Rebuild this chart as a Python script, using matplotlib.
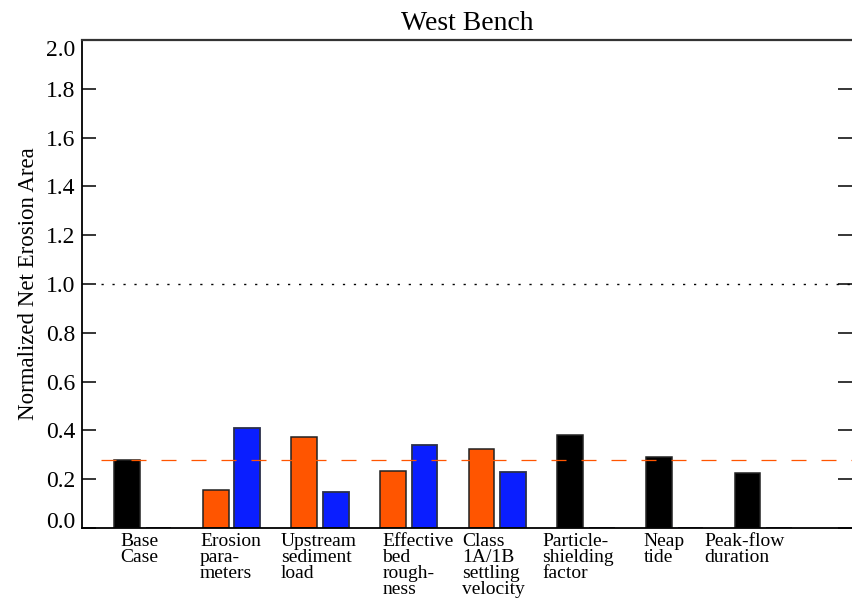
import matplotlib
matplotlib.use('Agg')
import matplotlib.pyplot as plt
import numpy as np

plt.rcParams['font.family'] = ['Liberation Serif', 'DejaVu Serif']

# Sensitivity cases, one group of two bars each
cases = ['Base\nCase', 'Erosion\npara-\nmeters', 'Upstream\nsediment\nload',
         'Effective\nbed\nrough-\nness', 'Class\n1A/1B\nsettling\nvelocity',
         'Particle-\nshielding\nfactor', 'Neap\ntide', 'Peak-flow\nduration']
low_vals = [0.28, 0.155, 0.373, 0.234, 0.324, 0.381, 0.291, 0.225]
high_vals = [0.0, 0.41, 0.148, 0.34, 0.23, 0.0, 0.0, 0.0]
low_colors = ['black', '#ff5500', '#ff5500', '#ff5500', '#ff5500', 'black', 'black', 'black']
high_colors = ['#2b2f4a', '#0a1eff', '#0a1eff', '#0a1eff', '#0a1eff', '#2b2f4a', '#2b2f4a', '#2b2f4a']
base_case = 0.28
yticks = [0.0, 0.2, 0.4, 0.6, 0.8, 1.0, 1.2, 1.4, 1.6, 1.8, 2.0]

# left edge of each case label, relative to the group centre
label_shift = [-0.257, -0.355, -0.441, -0.30, -0.40, -0.49, -0.35, -0.67]

fig = plt.figure(figsize=(8.52, 6.0), dpi=100)
ax = fig.add_axes([0.0962, 0.12, 0.9038, 0.8133])

x = np.arange(len(cases))
w = 0.29
ax.bar(x - 0.178, low_vals, w, color=low_colors, edgecolor='#222222', linewidth=1.1, zorder=2)
ax.bar(x + 0.178, high_vals, w, color=high_colors, edgecolor='#2b2f4a', linewidth=1.3, zorder=2)

ax.hlines(base_case, -0.47, 8.0, colors='#ff5500', linewidth=0.9, linestyles=(0, (12, 12)), zorder=3)
ax.hlines(1.0, -0.47, 8.0, colors='black', linewidth=1.0, linestyles=(0, (1.6, 6.3)), zorder=3)

ax.set_xlim(-0.686, 8.0)
ax.set_ylim(0, 2.0)
ax.set_xticks([])
ax.set_yticks(yticks)
ax.set_yticklabels(['%.1f' % v for v in yticks], fontsize=17)
ax.tick_params(axis='y', direction='in', length=10, width=1.1, left=True, right=True, pad=5)
lbls = ax.get_yticklabels()
lbls[0].set_va('baseline')
lbls[-1].set_va('top')

for side in ['left', 'bottom']:
    ax.spines[side].set_linewidth(1.3)
    ax.spines[side].set_color('black')
ax.spines['top'].set_linewidth(1.6)
ax.spines['top'].set_color('#333333')
ax.spines['right'].set_visible(False)

for i, name in enumerate(cases):
    ax.text(i + label_shift[i], -0.022, name, ha='left', va='top', fontsize=14,
            linespacing=0.92, transform=ax.transData)

ax.set_ylabel('Normalized Net Erosion Area', fontsize=16.5, labelpad=5)
ax.set_title('West Bench', fontsize=20, pad=7)

fig.savefig('out.png', dpi=100)
